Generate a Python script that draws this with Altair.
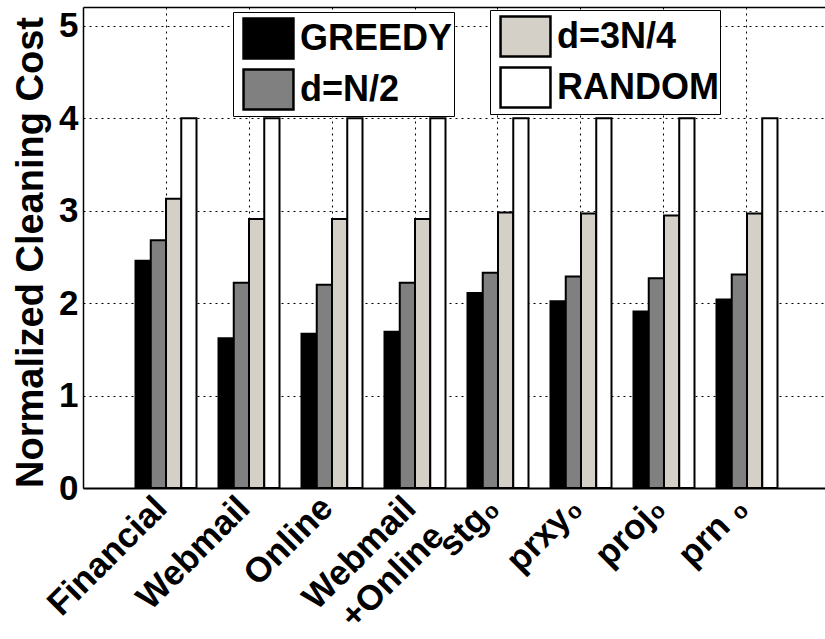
import altair as alt
import pandas as pd

categories = ["Financial", "Webmail", "Online", "Webmail\n+Online",
              "stg\u2080", "prxy\u2080", "proj\u2080", "prn \u2080"]
series = ["GREEDY", "d=N/2", "d=3N/4", "RANDOM"]
greedy = [2.46, 1.62, 1.67, 1.69, 2.11, 2.02, 1.91, 2.04]
half = [2.68, 2.22, 2.20, 2.22, 2.33, 2.29, 2.27, 2.31]
three_q = [3.13, 2.91, 2.91, 2.91, 2.98, 2.97, 2.95, 2.97]
rand = [4.0, 4.0, 4.0, 4.0, 4.0, 4.0, 4.0, 4.0]
colors = ["#000000", "#808080", "#d4d0c8", "#ffffff"]
y_ticks = [0, 1, 2, 3, 4, 5]

rows = []
for name, vals in zip(series, [greedy, half, three_q, rand]):
    for c, v in zip(categories, vals):
        rows.append({"category": c, "series": name, "value": v})
df = pd.DataFrame(rows)

FONT = "Liberation Sans"

x_scale = alt.Scale(domain=categories, paddingInner=0.265, paddingOuter=0.6025, align=0.525)
xoff = alt.XOffset("series:N", sort=series,
                   scale=alt.Scale(domain=series, paddingInner=0, paddingOuter=0))

y_axis = alt.Axis(values=y_ticks, title="Normalized Cleaning Cost", grid=True,
                  gridDash=[2, 4], gridColor="black", gridWidth=1, gridOpacity=1,
                  ticks=False, tickSize=0, labelPadding=5, labelFont=FONT,
                  labelFontSize=35, labelFontWeight="bold", labelColor="black",
                  domainColor="black", domainWidth=1.5, titleFont=FONT,
                  titleFontSize=38, titleFontWeight="bold", titleColor="black",
                  titleX=-41, titleY=245, titleBaseline="alphabetic", titleAngle=270)
y = alt.Y("value:Q", scale=alt.Scale(domain=[0, 5.205], nice=False), axis=y_axis)

bottom_axis = alt.Axis(orient="bottom", title=None, labelAngle=315, labelAlign="right",
                       labelBaseline="top", labelPadding=2, labelOffset=-17, labelFont=FONT,
                       labelFontSize=35, labelFontWeight="bold", labelColor="black",
                       labelLineHeight=40, labelExpr="split(datum.label, '\\n')",
                       labelOverlap=False, labelLimit=400,
                       grid=True, gridDash=[2, 4], gridColor="black", gridWidth=1,
                       gridOpacity=1, bandPosition=0.5, ticks=False, tickSize=0,
                       domainColor="black", domainWidth=2)
top_axis = alt.Axis(orient="top", title=None, labels=False, ticks=False, grid=False,
                    domainColor="black", domainWidth=1.5)


def legend(x, yy):
    return alt.Legend(title=None, orient="none", legendX=x, legendY=yy, direction="vertical",
                      symbolType="M-1.04,-0.833H1.04V0.833H-1.04Z", symbolSize=2304,
                      symbolStrokeColor="black", symbolStrokeWidth=2.5, symbolOffset=9,
                      labelFont=FONT, labelFontSize=36, labelFontWeight="bold",
                      labelColor="black", labelOffset=6, labelLimit=400,
                      padding=1, rowPadding=-3, strokeColor="black", fillColor="white",
                      cornerRadius=0)


l1 = alt.Chart(df).transform_filter(
    alt.FieldOneOfPredicate(field="series", oneOf=series[:2])
).mark_bar(stroke="black", strokeWidth=2, opacity=1).encode(
    x=alt.X("category:N", sort=categories, scale=x_scale, axis=bottom_axis),
    xOffset=xoff,
    y=y,
    color=alt.Color("series:N", scale=alt.Scale(domain=series[:2], range=colors[:2]),
                    legend=legend(150, 5)),
)

l2 = alt.Chart(df).transform_filter(
    alt.FieldOneOfPredicate(field="series", oneOf=series[2:])
).mark_bar(stroke="black", strokeWidth=2, opacity=1).encode(
    x=alt.X("category:N", sort=categories, scale=x_scale, axis=top_axis),
    xOffset=xoff,
    y=y,
    fill=alt.Fill("series:N", scale=alt.Scale(domain=series[2:], range=colors[2:]),
                  legend=legend(407, 3)),
)

chart = alt.layer(l1, l2).resolve_axis(x="independent").properties(
    width=742, height=481,
    padding={"left": 83, "top": 7, "right": 0, "bottom": 151},
    autosize=alt.AutoSizeParams(type="none"),
    background="white",
).configure_view(stroke=None)

chart.save("out.html", embed_options={"renderer": "svg", "actions": False})
